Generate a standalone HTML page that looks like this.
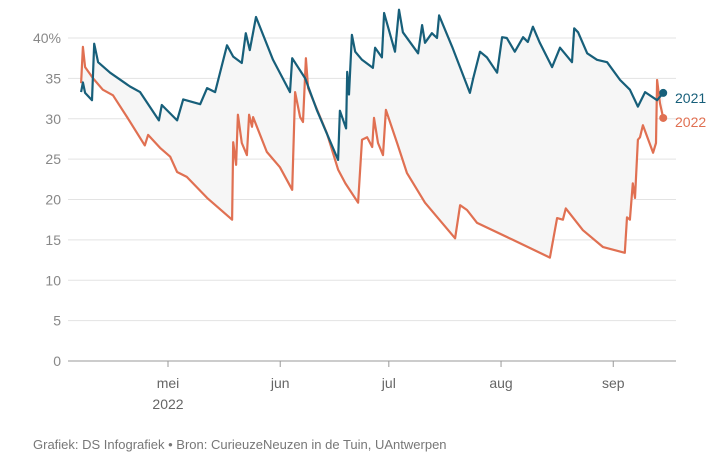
<!DOCTYPE html>
<html><head><meta charset="utf-8">
<style>
body{margin:0;background:#fff;font-family:"Liberation Sans",sans-serif;}
svg text{font-family:"Liberation Sans",sans-serif;}
</style></head>
<body>
<svg id="chart" width="727" height="462" viewBox="0 0 727 462" xmlns="http://www.w3.org/2000/svg">
<g id="grid"></g>
<g id="area"></g>
<g id="series"></g>
<g id="xaxis"></g>
<g id="yaxis"></g>
<text x="33" y="449" font-size="13" fill="#777">Grafiek: DS Infografiek • Bron: CurieuzeNeuzen in de Tuin, UAntwerpen</text>
</svg>
<script>
// days since 1 April 2022
const yTicks=[0,5,10,15,20,25,30,35,40];
const monthDays=[30,61,91,122,153];
const monthLabels=["mei","jun","jul","aug","sep"];
const days2021=[6,6.5,7.1,9,9.6,10.7,14,19.5,22.3,27.5,28.3,32.5,34.2,38.9,40.8,43,46.3,48,50.4,51.5,52.6,54.3,59,63.7,64.3,67.9,71.2,77,77.5,79.2,79.5,80,80.8,81.7,83.6,86.6,87.2,89.1,89.7,92.7,93.8,94.9,99.1,100.2,101,102.9,104.3,104.9,108.5,113.4,114.3,116.2,118.1,120.9,122.3,123.6,125.8,128.1,129.4,130.8,132.7,136.1,138.3,141.6,142.2,143.3,145.8,148.5,151.3,154.9,157.6,159.8,161.8,165.1,166.8];
const vals2021=[33.3,34.5,33.2,32.3,39.3,37,35.7,34,33.3,29.8,31.7,29.8,32.4,31.8,33.8,33.3,39.1,37.7,36.9,40.6,38.5,42.6,37.3,33.3,37.5,35,31,24.9,31,28.8,35.8,33,40.4,38.3,37.3,36.3,38.8,37.6,43.1,38.3,43.5,40.7,38.1,41.6,39.4,40.6,40,42.8,38.9,33.2,35,38.3,37.6,35.7,40.1,40,38.3,40.1,39.5,41.4,39.4,36.4,38.8,37,41.2,40.7,38.1,37.3,37,34.8,33.6,31.5,33.3,32.3,33.2];
const days2022=[6,6.5,7.1,9.3,12,14.8,18.7,23.6,24.5,27.8,30.6,32.5,35.2,40.8,47.7,48,48.8,49.3,50.4,51.8,52.4,53.2,53.5,57.3,60.9,64.3,65.1,66.5,67.3,68.1,68.7,73.9,77,79,82.5,83.6,85,86.4,86.9,88,89.4,90.2,93.3,96,101,109.3,110.7,112.6,115.4,125.3,135.5,137.5,139.1,139.9,144.6,150.2,156.2,156.8,157.6,158.4,159,159.8,160.4,161.2,164,164.8,165.1,165.9,166.8];
const vals2022=[34.4,38.9,36.4,35,33.6,32.9,30.2,26.7,28,26.4,25.3,23.4,22.8,20.2,17.5,27.1,24.3,30.5,27,25.5,30.5,29,30.2,25.9,24,21.2,33.3,30.2,29.6,37.5,33.8,28.2,23.7,22,19.6,27.4,27.7,26.5,30.1,27,25.5,31.1,27,23.3,19.6,15.2,19.3,18.7,17.1,15,12.8,17.7,17.5,18.9,16.2,14.1,13.4,17.8,17.5,22,20.2,27.4,27.7,29.2,25.8,27,34.8,31.9,30.1];
const NS="http://www.w3.org/2000/svg";
const X=d=>59.4+d*3.62;
const Y=v=>361-v*8.075;
function mk(tag,attrs,parent){const e=document.createElementNS(NS,tag);for(const k in attrs)e.setAttribute(k,attrs[k]);parent.appendChild(e);return e;}
const grid=document.getElementById('grid'),ya=document.getElementById('yaxis'),xa=document.getElementById('xaxis');
yTicks.forEach(v=>{
  const l=mk('line',{x1:68,x2:676,y1:Y(v),y2:Y(v),stroke:v===0?'#999':'#e3e3e3','stroke-width':1},grid);
  
  
  const t=mk('text',{x:61,y:Y(v)+5,'text-anchor':'end','font-size':14,fill:'#888'},ya);
  t.textContent=v===40?'40%':String(v);
  
  
});
monthDays.forEach((d,i)=>{
  const tk=mk('line',{x1:X(d),x2:X(d),y1:361,y2:367,stroke:'#999'},xa);
  
  
  const t=mk('text',{x:X(d),y:388,'text-anchor':'middle','font-size':14,fill:'#666'},xa);
  t.textContent=monthLabels[i];
  
  
});
const yr=mk('text',{x:X(30),y:409,'text-anchor':'middle','font-size':14,fill:'#666'},xa);
yr.textContent='2022';


const p1=days2021.map((d,i)=>X(d).toFixed(1)+','+Y(vals2021[i]).toFixed(1));
const p2=days2022.map((d,i)=>X(d).toFixed(1)+','+Y(vals2022[i]).toFixed(1));
const area=mk('polygon',{points:p1.concat(p2.slice().reverse()).join(' '),fill:'#f6f6f6'},document.getElementById('area'));


const ser=document.getElementById('series');
const l2=mk('polyline',{points:p2.join(' '),fill:'none',stroke:'#e07052','stroke-width':2.2,'stroke-linejoin':'round'},ser);


const l1=mk('polyline',{points:p1.join(' '),fill:'none',stroke:'#175f7a','stroke-width':2.2,'stroke-linejoin':'round'},ser);


const n1=days2021.length-1,n2=days2022.length-1;
const d1=mk('circle',{cx:X(days2021[n1]),cy:Y(vals2021[n1]),r:4,fill:'#175f7a'},ser);


const d2=mk('circle',{cx:X(days2022[n2]),cy:Y(vals2022[n2]),r:4,fill:'#e07052'},ser);


const t1=mk('text',{x:675,y:Y(vals2021[n1])+10,'font-size':14,fill:'#175f7a'},ser);
t1.textContent='2021';


const t2=mk('text',{x:675,y:Y(vals2022[n2])+9,'font-size':14,fill:'#e07052'},ser);
t2.textContent='2022';


</script>
</body></html>
